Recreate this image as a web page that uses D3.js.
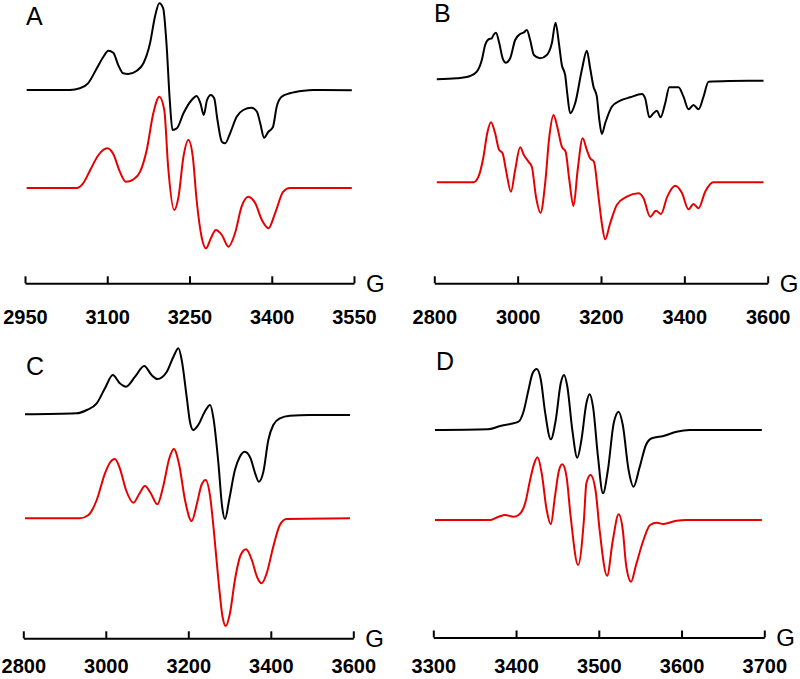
<!DOCTYPE html>
<html><head><meta charset="utf-8">
<script src="https://cdn.jsdelivr.net/npm/d3@7"></script>
<style>
html,body{margin:0;padding:0;background:#fff;}
svg{display:block;font-family:"Liberation Sans",Arial,sans-serif;}
</style></head>
<body>
<svg id="chart" width="800" height="679"></svg>
<script>
// ---- Data: [field (G), intensity (arb. units)] ----
const panelLetters = ["A", "B", "C", "D"];
const ticksA = [2950, 3100, 3250, 3400, 3550];
const ticksB = [2800, 3000, 3200, 3400, 3600];
const ticksC = [2800, 3000, 3200, 3400, 3600];
const ticksD = [3300, 3400, 3500, 3600, 3700];
const unitLabel = "G";

const expA = [[2953,0],[3032,0],[3050,1.7],[3065,6.7],[3081,21.7],[3093,33.3],[3102,39.3],[3111,37.3],[3120,25],[3129,16.7],[3138,16],[3154,19.3],[3166,26.7],[3178,46.7],[3187,73.3],[3195,86.7],[3202,81.7],[3208,46.7],[3214,-10],[3219,-40],[3227,-38.3],[3239,-23.3],[3254,-10],[3263,-6],[3270,-13.3],[3276,-25],[3282,-10],[3289,-5],[3295,-8.3],[3301,-30],[3309,-51.7],[3315,-53.3],[3324,-43.3],[3336,-26.7],[3348,-20],[3363,-17.7],[3373,-21.7],[3379,-33.3],[3386,-47.7],[3394,-41.7],[3402,-37.3],[3409,-16.7],[3418,-6.7],[3433,-3.3],[3458,-0.7],[3476,0],[3546,-0.3]];
const simA = [[2953,0],[3044,0],[3056,4.7],[3069,18],[3084,33],[3100,39.7],[3111,34],[3123,16.3],[3134,6.3],[3148,8.7],[3160,16.3],[3172,38],[3184,74.7],[3195,91.3],[3204,78],[3211,21.3],[3222,-22],[3230,-8.7],[3239,31.3],[3248,48],[3256,31.3],[3263,-12],[3272,-48.7],[3280,-60.3],[3289,-50.3],[3298,-42],[3309,-47],[3321,-58.7],[3333,-45.3],[3345,-18.7],[3357,-8.7],[3370,-15.3],[3382,-32],[3394,-40.3],[3406,-25.3],[3421,-3.7],[3433,0],[3546,0]];

const expB = [[2806,0.7],[2854,1.7],[2886,4],[2902,8.3],[2914,20],[2922,35],[2930,40.7],[2938,41.7],[2942,45],[2948,47.3],[2956,36.7],[2964,21.7],[2972,17.3],[2982,21.7],[2994,40],[3006,46],[3014,47.3],[3022,50],[3030,40],[3039,25],[3054,21.7],[3070,25],[3082,36.7],[3091,57.3],[3099,36.7],[3106,15],[3114,5],[3119,-13.3],[3126,-33.3],[3138,-23.3],[3154,10],[3166,29.3],[3174,11.7],[3182,-6.7],[3190,-16.7],[3196,-40],[3202,-54],[3210,-43.3],[3226,-26.7],[3246,-20.7],[3270,-17.3],[3298,-14],[3306,-18.3],[3316,-37.3],[3326,-33.3],[3334,-30.7],[3343,-37.3],[3354,-23.3],[3364,-7.3],[3386,-7.3],[3398,-16.7],[3410,-29.3],[3422,-25],[3434,-29.3],[3446,-16.7],[3458,-1.7],[3510,-1],[3590,-0.7]];
const simB = [[2806,0],[2894,0],[2906,5.6],[2918,25.6],[2927,49],[2936,60],[2946,49],[2955,33],[2964,29],[2972,12.3],[2984,-9.4],[2994,12.3],[3006,35],[3015,27.3],[3026,20.6],[3034,15.6],[3044,-14.4],[3055,-30.4],[3066,-1],[3076,45.6],[3086,67.3],[3095,55.6],[3106,35.6],[3115,30.6],[3124,2.3],[3134,-23.7],[3144,12.3],[3156,44],[3166,32.3],[3174,24],[3183,20.6],[3194,-14.4],[3202,-41],[3210,-57],[3222,-41],[3238,-22.7],[3262,-14.4],[3290,-11],[3302,-16],[3318,-34.4],[3332,-28.4],[3344,-31.7],[3359,-14.4],[3378,-3.4],[3394,-10.4],[3410,-27],[3422,-21.7],[3434,-26],[3450,-9.4],[3470,0],[3590,0]];

const expC = [[2804,0.7],[2929,1.7],[2954,5],[2978,11.7],[2998,26.7],[3017,40],[3034,31.7],[3049,28.3],[3071,38.3],[3093,49],[3111,40],[3125,36],[3148,43.3],[3164,58.3],[3176,66.7],[3184,55],[3196,18.3],[3204,-6.7],[3212,-15],[3224,-10],[3240,3.3],[3253,10],[3261,-3.3],[3273,-48.3],[3282,-91.7],[3289,-104],[3299,-85],[3313,-55],[3325,-41.7],[3337,-36.7],[3351,-43.3],[3362,-58.3],[3371,-66.7],[3382,-56.7],[3394,-25],[3406,-10],[3422,-3.3],[3446,-0.7],[3495,0],[3592,0]];
const simC = [[2804,0],[2937,0],[2958,3.3],[2978,18.3],[2998,45],[3010,55.6],[3022,59.3],[3034,50],[3049,28.3],[3067,15.6],[3081,24.3],[3095,32.3],[3109,25],[3125,14],[3139,31.6],[3154,60],[3165,69.3],[3178,53.3],[3192,18.3],[3208,-2.7],[3222,16.6],[3232,33.3],[3242,38.3],[3253,21.6],[3261,-8.4],[3273,-61.7],[3283,-98.4],[3291,-107.7],[3301,-95],[3313,-61.7],[3327,-36.7],[3340,-31],[3354,-41.7],[3367,-59],[3378,-65],[3390,-55],[3406,-28.4],[3422,-6.7],[3438,-0.7],[3592,0]];

const expD = [[3302,0],[3366,0.7],[3381,4],[3393,6],[3403,8.3],[3409,18.3],[3415,40],[3420,56.7],[3425,61],[3430,50],[3435,18.3],[3442,-9.3],[3448,10],[3454,46.7],[3458,55],[3462,43.3],[3468,0],[3474,-27.7],[3479,-10],[3485,26.7],[3489,35.7],[3493,23.3],[3499,-26.7],[3505,-63.3],[3511,-40],[3518,6.7],[3524,18.3],[3529,5],[3536,-40],[3542,-56.7],[3549,-38.3],[3557,-15],[3564,-8.3],[3578,-6],[3594,-1.7],[3610,0],[3697,0]];
const simD = [[3302,0],[3369,0],[3379,3.3],[3387,5],[3397,3.3],[3403,5],[3411,16.7],[3417,40],[3422,56.7],[3426,62.7],[3431,46.7],[3437,10],[3442,-4.3],[3447,23.3],[3452,50],[3456,55.7],[3461,43.3],[3466,3.3],[3475,-45],[3482,0],[3485,36.7],[3490,45],[3496,30],[3501,-10],[3510,-55.7],[3517,-20],[3524,5.7],[3529,-10],[3533,-45],[3539,-61.7],[3545,-45],[3554,-20],[3562,-5],[3570,-2.7],[3578,-4],[3594,-0.7],[3606,0],[3697,0]];

// ---- Layout ----
const panels = [
  {letter: panelLetters[0], ticks: ticksA, exp: expA, sim: simA, x0: 25,    x1: 354,   axisY: 283.3, expBase: 90,    simBase: 188,   lx: 26,  ly: 25,  pad: 27},
  {letter: panelLetters[1], ticks: ticksB, exp: expB, sim: simB, x0: 434.3, x1: 767.7, axisY: 283.3, expBase: 80,    simBase: 182.3, lx: 434, ly: 22,  pad: 27},
  {letter: panelLetters[2], ticks: ticksC, exp: expC, sim: simC, x0: 23.3,  x1: 353.3, axisY: 638.3, expBase: 415,   simBase: 518.3, lx: 26,  ly: 375, pad: 21},
  {letter: panelLetters[3], ticks: ticksD, exp: expD, sim: simD, x0: 433.3, x1: 764.3, axisY: 637.5, expBase: 430,   simBase: 520,   lx: 436, ly: 370, pad: 21}
];

const svg = d3.select("#chart");
const RED = "#e60000";

panels.forEach(p => {
  const g = svg.append("g");
  const x = d3.scaleLinear()
    .domain([p.ticks[0], p.ticks[p.ticks.length - 1]])
    .range([p.x0, p.x1]);

  const yExp = d3.scaleLinear().domain([0, 100]).range([p.expBase, p.expBase - 100]);
  const ySim = d3.scaleLinear().domain([0, 100]).range([p.simBase, p.simBase - 100]);

  const lineExp = d3.line().x(d => x(d[0])).y(d => yExp(d[1])).curve(d3.curveMonotoneX);
  const lineSim = d3.line().x(d => x(d[0])).y(d => ySim(d[1])).curve(d3.curveMonotoneX);

  g.append("path").datum(p.exp).attr("d", lineExp)
    .attr("fill", "none").attr("stroke", "#000").attr("stroke-width", 2)
    .attr("stroke-linejoin", "round");
  g.append("path").datum(p.sim).attr("d", lineSim)
    .attr("fill", "none").attr("stroke", RED).attr("stroke-width", 2)
    .attr("stroke-linejoin", "round");

  // axis
  const axis = d3.axisBottom(x)
    .tickValues(p.ticks)
    .tickSize(-7)
    .tickSizeOuter(0)
    .tickPadding(p.pad)
    .tickFormat(d3.format("d"));
  const ag = g.append("g").attr("transform", `translate(0,${p.axisY})`).call(axis);
  ag.select(".domain").attr("stroke", "#000").attr("stroke-width", 2);
  ag.selectAll(".tick line").attr("stroke", "#000").attr("stroke-width", 2);
  ag.selectAll(".tick text")
    .attr("fill", "#000")
    .style("font-family", "'Liberation Sans', Arial, sans-serif")
    .style("font-size", "20px")
    .style("font-weight", "bold");

  // unit label
  g.append("text")
    .attr("x", p.x1 + 12)
    .attr("y", p.axisY)
    .attr("dy", "0.36em")
    .style("font-size", "24px")
    .attr("fill", "#000")
    .text(unitLabel);

  // panel letter
  g.append("text")
    .attr("x", p.lx)
    .attr("y", p.ly)
    .style("font-size", "25px")
    .attr("fill", "#000")
    .text(p.letter);
});
</script>
</body></html>
